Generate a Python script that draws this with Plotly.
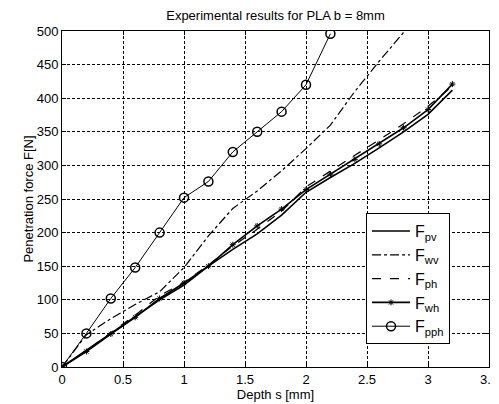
import plotly.graph_objects as go

# depth s [mm]
s_pph = [0, 0.2, 0.4, 0.6, 0.8, 1.0, 1.2, 1.4, 1.6, 1.8, 2.0, 2.2]
f_pph = [0, 50, 102, 148, 200, 252, 276, 320, 350, 380, 420, 496]

s_wv = [0, 0.2, 0.4, 0.6, 0.8, 1.0, 1.2, 1.4, 1.6, 1.8, 2.0, 2.2, 2.4, 2.6, 2.8]
f_wv = [0, 48, 72, 93, 112, 148, 195, 236, 262, 292, 325, 360, 410, 455, 498]

s_b = [0, 0.2, 0.4, 0.6, 0.8, 1.0, 1.2, 1.4, 1.6, 1.8, 2.0, 2.2, 2.4, 2.6, 2.8, 3.0, 3.2]
f_pv = [0, 25, 50, 75, 100, 122, 150, 175, 198, 226, 260, 282, 303, 326, 350, 376, 412]
f_ph = [0, 24, 51, 77, 106, 126, 152, 180, 205, 232, 268, 292, 315, 338, 362, 388, 418]
f_wh = [0, 23, 49, 74, 102, 125, 150, 182, 210, 235, 264, 287, 309, 332, 356, 383, 421]

fig = go.Figure()
fig.add_trace(go.Scatter(x=s_b, y=f_pv, name="F<sub>pv</sub>", mode="lines",
                         line=dict(color="black", width=1.6)))
fig.add_trace(go.Scatter(x=s_wv, y=f_wv, name="F<sub>wv</sub>", mode="lines",
                         line=dict(color="black", width=1.2, dash="dashdot")))
fig.add_trace(go.Scatter(x=s_b, y=f_ph, name="F<sub>ph</sub>", mode="lines",
                         line=dict(color="black", width=1.2, dash="dash")))
fig.add_trace(go.Scatter(x=s_b, y=f_wh, name="F<sub>wh</sub>", mode="lines+markers",
                         line=dict(color="black", width=1.6),
                         marker=dict(symbol="asterisk-open", size=5, color="black",
                                     line=dict(color="black", width=1))))
fig.add_trace(go.Scatter(x=s_pph, y=f_pph, name="F<sub>pph</sub>", mode="lines+markers",
                         line=dict(color="black", width=1),
                         marker=dict(symbol="circle-open", size=9, color="black",
                                     line=dict(color="black", width=1.5))))

axis = dict(showline=True, linecolor="black", linewidth=1, mirror="ticks",
            ticks="inside", ticklen=4, tickcolor="black", automargin=False,
            showgrid=True, gridcolor="black", griddash="3px,2px", gridwidth=1,
            zeroline=False, tickfont=dict(size=13, color="black"))

fig.update_xaxes(axis, range=[0, 3.5], dtick=0.5,
                 title=dict(text="Depth s [mm]", font=dict(size=13), standoff=0))
fig.update_yaxes(axis, range=[0, 500], dtick=50,
                 title=dict(text="Penetration force F[N]", font=dict(size=13), standoff=0))

# page body has an 8px margin, so the figure is a bit smaller than the window
fig.update_layout(
    width=491, height=396,
    margin=dict(l=54, r=10, t=23, b=37),
    paper_bgcolor="white", plot_bgcolor="white",
    font=dict(family="Liberation Sans, Arial", size=13, color="black"),
    title=dict(text="Experimental results for PLA b = 8mm", xref="paper", x=0.5,
               xanchor="center", yref="container", y=0.993, yanchor="top",
               pad=dict(t=0), font=dict(size=13)),
    legend=dict(x=0.712, y=0.458, xanchor="left", yanchor="top",
                bgcolor="white", bordercolor="black", borderwidth=1,
                font=dict(size=16), itemwidth=38, tracegroupgap=0),
)

fig.write_html("out.html")
